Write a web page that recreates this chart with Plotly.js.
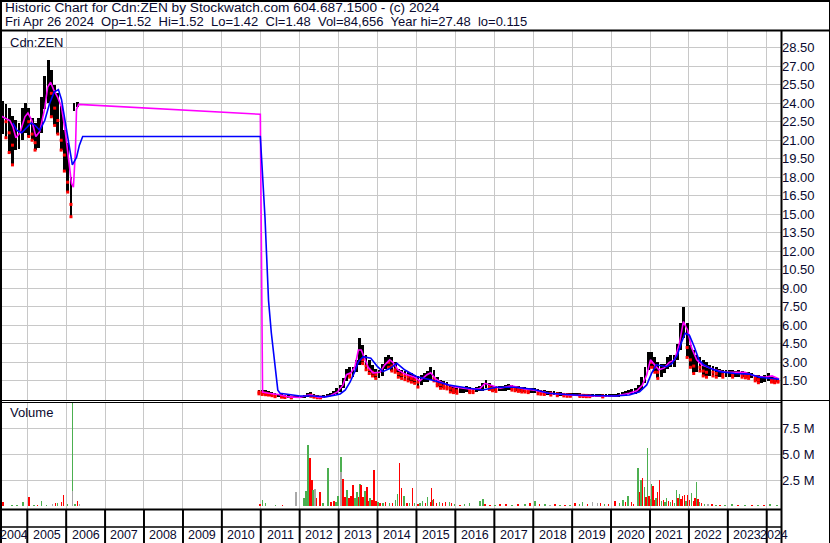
<!DOCTYPE html>
<html>
<head>
<meta charset="utf-8">
<script src="https://cdn.plot.ly/plotly-3.0.1.min.js"></script>
<style>
html,body{margin:0;padding:0;background:#fff;}
#chart{width:830px;height:543px;}
</style>
</head>
<body>
<div id="chart"></div>
<script>
// ---- Monthly price ranges (Cdn:ZEN) ----
const priceMonths = [
  '2004-04','2004-05','2004-06','2004-07','2004-08','2004-09','2004-10','2004-11','2004-12',
  '2005-01','2005-02','2005-03','2005-04','2005-05','2005-06','2005-07','2005-08','2005-09','2005-10','2005-11','2005-12',
  '2006-01','2006-02','2006-03','2006-04',
  '2010-12',
  '2011-01','2011-02','2011-03','2011-04','2011-05','2011-06','2011-07','2011-08','2011-09','2011-10','2011-11','2011-12',
  '2012-01','2012-02','2012-03','2012-04','2012-05','2012-06','2012-07','2012-08','2012-09','2012-10','2012-11','2012-12',
  '2013-01','2013-02','2013-03','2013-04','2013-05','2013-06','2013-07','2013-08','2013-09','2013-10','2013-11','2013-12',
  '2014-01','2014-02','2014-03','2014-04','2014-05','2014-06','2014-07','2014-08','2014-09','2014-10','2014-11','2014-12',
  '2015-01','2015-02','2015-03','2015-04','2015-05','2015-06','2015-07','2015-08','2015-09','2015-10','2015-11','2015-12',
  '2016-01','2016-02','2016-03','2016-04','2016-05','2016-06','2016-07','2016-08','2016-09','2016-10','2016-11','2016-12',
  '2017-01','2017-02','2017-03','2017-04','2017-05','2017-06','2017-07','2017-08','2017-09','2017-10','2017-11','2017-12',
  '2018-01','2018-02','2018-03','2018-04','2018-05','2018-06','2018-07','2018-08','2018-09','2018-10','2018-11','2018-12',
  '2019-01','2019-02','2019-03','2019-04','2019-05','2019-06','2019-07','2019-08','2019-09','2019-10','2019-11','2019-12',
  '2020-01','2020-02','2020-03','2020-04','2020-05','2020-06','2020-07','2020-08','2020-09','2020-10','2020-11','2020-12',
  '2021-01','2021-02','2021-03','2021-04','2021-05','2021-06','2021-07','2021-08','2021-09','2021-10','2021-11','2021-12',
  '2022-01','2022-02','2022-03','2022-04','2022-05','2022-06','2022-07','2022-08','2022-09','2022-10','2022-11','2022-12',
  '2023-01','2023-02','2023-03','2023-04','2023-05','2023-06','2023-07','2023-08','2023-09','2023-10','2023-11','2023-12',
  '2024-01','2024-02','2024-03','2024-04'
];
const priceHigh = [
  24.5,24.2,23.9,23.6,23.0,22.6,22.4,23.6,24.0,
  23.6,22.8,22.4,22.8,24.5,26.2,27.48,26.7,25.5,24.8,23.8,21.8,
  20.8,18.0,24.0,24.1,
  0.75,
  0.8,0.75,0.7,0.6,0.5,0.45,0.4,0.35,0.35,0.3,0.3,0.3,
  0.3,0.35,0.55,0.6,0.4,0.35,0.3,0.35,0.45,0.5,0.7,0.9,
  1.2,1.7,2.5,2.6,2.6,3.2,5.0,4.4,3.6,3.2,2.8,2.5,
  2.4,2.9,3.4,3.6,3.4,3.0,2.5,2.4,2.3,2.2,2.1,2.0,
  1.9,2.0,2.1,2.3,2.6,2.4,1.8,1.6,1.5,1.4,1.2,1.1,
  1.0,0.95,1.0,1.05,1.0,0.95,1.0,1.1,1.3,1.6,1.3,1.1,
  1.1,1.05,1.1,1.15,1.25,1.2,1.1,1.05,1.0,1.0,0.95,0.9,
  0.9,0.85,0.8,0.75,0.7,0.7,0.65,0.6,0.6,0.55,0.5,0.5,
  0.5,0.5,0.48,0.46,0.45,0.45,0.42,0.42,0.45,0.42,0.4,0.4,
  0.42,0.45,0.55,0.6,0.65,0.8,0.85,0.9,1.2,1.8,2.6,3.8,
  3.8,3.4,3.0,2.9,2.9,3.4,3.6,3.6,4.5,6.2,7.49,6.2,
  4.4,4.0,3.6,3.4,3.2,3.0,2.8,2.7,2.6,2.5,2.4,2.4,
  2.4,2.35,2.3,2.4,2.3,2.2,2.2,2.15,2.0,1.95,1.9,2.0,
  2.1,1.9,1.8,1.7
];
const priceLow = [
  21.4,21.5,21.2,20.0,19.0,20.2,20.3,21.0,21.6,
  21.3,21.0,20.2,20.4,21.6,23.5,24.0,22.9,22.2,21.5,20.2,18.5,
  16.8,14.8,23.4,23.7,
  0.45,
  0.4,0.38,0.35,0.3,0.22,0.2,0.18,0.15,0.12,0.12,0.115,0.12,
  0.12,0.15,0.2,0.25,0.18,0.13,0.12,0.13,0.2,0.25,0.35,0.45,
  0.6,0.9,1.5,1.8,1.8,2.2,2.8,2.9,2.4,2.1,1.9,1.7,
  1.7,1.9,2.5,2.6,2.3,2.2,1.8,1.7,1.6,1.5,1.4,1.3,
  1.0,1.2,1.4,1.4,1.6,1.5,1.1,0.9,0.9,0.85,0.6,0.55,
  0.5,0.5,0.55,0.6,0.55,0.55,0.6,0.65,0.7,0.9,0.8,0.7,
  0.65,0.65,0.7,0.7,0.75,0.75,0.7,0.65,0.6,0.6,0.55,0.5,
  0.5,0.45,0.42,0.4,0.38,0.35,0.33,0.3,0.3,0.28,0.25,0.25,
  0.25,0.25,0.24,0.23,0.22,0.22,0.2,0.2,0.2,0.2,0.18,0.18,
  0.2,0.2,0.2,0.25,0.3,0.4,0.45,0.45,0.6,0.8,1.3,2.4,
  2.6,2.2,1.7,1.8,2.1,2.5,2.6,2.6,3.2,4.0,5.0,3.4,
  2.6,2.1,2.2,2.3,1.9,1.8,1.9,1.9,1.8,1.8,1.8,1.8,
  1.85,1.8,1.8,1.85,1.8,1.75,1.7,1.7,1.5,1.35,1.35,1.4,
  1.45,1.4,1.35,1.4
];
const priceClose = [
  22.8,22.9,22.5,21.6,20.6,21.2,21.5,22.8,23.2,
  22.5,21.5,20.8,22.0,24.0,25.2,25.8,24.8,23.6,22.6,21.0,19.8,
  17.6,15.8,23.8,23.9,
  0.6,
  0.55,0.5,0.45,0.4,0.3,0.3,0.25,0.2,0.2,0.18,0.18,0.2,
  0.2,0.22,0.45,0.35,0.25,0.2,0.18,0.25,0.35,0.4,0.6,0.75,
  1.0,1.6,2.2,2.0,2.4,3.0,4.0,3.2,2.7,2.4,2.2,2.0,
  2.1,2.6,3.1,3.0,2.7,2.4,2.1,2.0,1.9,1.8,1.7,1.6,
  1.4,1.7,1.8,2.0,2.2,1.7,1.3,1.2,1.1,1.0,0.9,0.8,
  0.7,0.7,0.75,0.8,0.75,0.7,0.8,0.85,1.0,1.2,1.0,0.9,
  0.85,0.85,0.9,0.95,1.0,0.95,0.9,0.85,0.8,0.75,0.7,0.7,
  0.7,0.65,0.6,0.55,0.55,0.5,0.5,0.45,0.45,0.4,0.38,0.35,
  0.35,0.35,0.34,0.33,0.32,0.3,0.3,0.3,0.3,0.28,0.28,0.28,
  0.3,0.3,0.4,0.45,0.5,0.65,0.7,0.7,0.9,1.5,2.2,3.3,
  3.0,2.6,2.2,2.4,2.6,3.0,3.0,3.2,4.2,5.6,6.0,4.2,
  3.2,2.7,2.9,2.6,2.3,2.2,2.3,2.2,2.1,2.1,2.0,2.1,
  2.1,2.0,2.0,2.1,2.0,1.95,1.9,1.9,1.7,1.6,1.6,1.7,
  1.7,1.6,1.55,1.48
];

// ---- Short moving average (magenta) ----
const fastDates = [
  '2004-04-20','2004-06-05','2004-07-22','2004-08-19','2004-09-16','2004-10-24','2004-12-10',
  '2005-01-07','2005-02-13','2005-03-22','2005-04-28','2005-06-14','2005-07-11','2005-08-08','2005-09-05',
  '2005-10-12','2005-11-18','2005-12-25','2006-01-22','2006-02-20','2006-03-10','2006-03-29','2006-04-08','2006-04-27',
  '2010-12-28','2011-01-18','2011-03-15','2011-06-15','2011-09-20','2012-01-04','2012-03-20','2012-04-20',
  '2012-06-25','2012-10-10','2012-12-20','2013-02-10','2013-03-15','2013-04-25','2013-06-01','2013-07-05',
  '2013-08-01','2013-08-30','2013-10-05','2013-11-20','2014-01-25','2014-03-10','2014-04-25','2014-05-25',
  '2014-07-10','2014-09-15','2014-12-15','2015-02-01','2015-04-10','2015-05-15','2015-07-01','2015-09-10',
  '2015-12-25','2016-05-10','2016-08-15','2016-10-05','2016-12-10','2017-02-25','2017-06-10','2017-10-10',
  '2018-01-15','2018-05-25','2018-12-10','2019-06-10','2020-01-05','2020-03-01','2020-06-20','2020-08-30',
  '2020-10-20','2020-12-01','2021-01-05','2021-02-05','2021-03-25','2021-05-15','2021-07-01','2021-08-20',
  '2021-10-05','2021-11-10','2021-12-20','2022-01-25','2022-03-15','2022-05-01','2022-06-25','2022-08-30',
  '2022-12-05','2023-03-10','2023-06-10','2023-09-10','2023-12-15','2024-02-20','2024-04-26'
];
const fastValues = [
  23.0,22.8,22.6,22.1,21.2,21.6,22.9,
  23.2,22.6,21.3,21.7,23.6,25.3,25.7,25.1,
  24.5,23.7,21.6,19.4,17.5,17.2,20.2,23.5,23.9,
  23.1,0.6,0.5,0.4,0.2,0.15,0.35,0.35,
  0.15,0.28,0.6,1.15,2.0,2.15,2.6,4.0,
  4.0,3.35,2.6,2.15,2.2,2.8,3.2,3.0,
  2.4,2.05,1.8,1.5,2.0,2.15,1.65,1.3,
  1.0,0.85,0.85,1.3,1.1,0.9,1.1,0.85,
  0.75,0.5,0.35,0.28,0.28,0.3,0.5,0.7,
  1.15,2.0,3.2,2.9,2.4,2.55,3.0,3.2,
  4.6,6.3,5.6,4.2,3.2,2.8,2.6,2.4,
  2.2,2.2,2.2,1.9,1.8,1.9,1.65
];

// ---- Long moving average (blue) ----
const slowDates = [
  '2004-08-19','2004-09-25','2004-11-10','2004-12-28','2005-02-05','2005-03-15','2005-04-28','2005-06-14',
  '2005-07-30','2005-09-10','2005-10-20','2005-11-18','2005-12-25','2006-01-30','2006-02-28','2006-04-08',
  '2006-05-05','2006-06-05','2010-12-28','2011-02-10','2011-03-15','2011-04-10','2011-05-10','2011-06-10',
  '2011-07-01','2011-09-20','2012-01-04','2012-05-15','2012-08-30','2012-12-05','2013-01-15','2013-03-05',
  '2013-04-20','2013-06-01','2013-07-05','2013-08-20','2013-10-30','2014-01-01','2014-02-20','2014-04-25',
  '2014-07-01','2014-09-15','2015-01-05','2015-05-25','2015-11-01','2016-05-10','2016-09-10','2017-01-25',
  '2017-07-10','2017-12-30','2018-05-25','2019-01-25','2019-09-20','2020-02-05','2020-06-20','2020-09-25',
  '2020-12-01','2021-01-15','2021-03-01','2021-04-25','2021-06-05','2021-07-25','2021-09-15','2021-10-20',
  '2021-11-25','2022-01-05','2022-02-20','2022-04-05','2022-05-20','2022-07-25','2022-10-15','2023-03-10',
  '2023-07-25','2023-10-25','2024-02-01','2024-04-26'
];
const slowValues = [
  22.4,21.8,21.6,22.0,22.4,22.2,21.8,22.6,
  24.0,24.9,25.1,24.3,22.4,20.2,19.0,19.6,
  20.6,21.3,21.3,14.7,8.0,5.4,3.2,0.75,
  0.5,0.4,0.28,0.28,0.2,0.35,0.44,0.76,
  1.43,2.25,3.05,3.46,3.33,2.65,2.25,2.5,
  2.92,2.38,1.84,1.57,1.17,0.9,0.76,0.98,
  0.98,0.82,0.5,0.36,0.28,0.28,0.36,0.62,
  1.17,2.1,2.8,2.7,2.65,2.9,3.6,4.55,
  5.35,5.2,4.27,3.2,2.8,2.5,2.25,2.1,
  2.05,1.8,1.7,1.63
];

// ---- Volume (millions of shares); u = up, d = down, f = unchanged ----
const volDates = [
  '2004-05-16','2004-08-09','2004-09-25','2004-11-21','2005-01-16','2005-03-02','2005-04-08','2005-05-15',
  '2005-07-01','2005-08-26','2005-09-23','2005-10-11','2005-11-18','2005-12-06','2006-01-13','2006-02-28',
  '2006-02-28','2006-03-28','2006-04-16','2006-05-05',
  '2010-12-28','2011-01-17','2011-02-15','2011-05-19','2011-07-24','2011-11-26',
  '2012-02-10','2012-02-28','2012-03-17','2012-04-06','2012-04-20','2012-04-29','2012-05-08','2012-05-22',
  '2012-06-06','2012-07-08','2012-08-06','2012-09-22','2012-10-20','2012-11-17','2012-12-06','2012-12-24',
  '2013-01-22','2013-01-22','2013-02-10','2013-02-28','2013-03-17','2013-04-06','2013-04-24','2013-05-13',
  '2013-06-01','2013-06-19','2013-07-08','2013-07-22','2013-07-27','2013-08-15','2013-09-03','2013-09-22',
  '2013-10-10','2013-10-20','2013-11-08','2013-11-26','2013-12-15',
  '2014-01-03','2014-01-22','2014-02-19','2014-03-17','2014-04-24','2014-05-22','2014-06-19','2014-07-08',
  '2014-07-27','2014-08-15','2014-09-03','2014-10-01','2014-10-29','2014-11-26','2014-12-15',
  '2015-01-13','2015-02-01','2015-02-28','2015-03-27','2015-04-15','2015-05-13','2015-05-22','2015-06-01',
  '2015-06-10','2015-07-08','2015-08-06','2015-09-03','2015-10-01','2015-11-08','2015-11-26','2015-12-24',
  '2016-02-11','2016-03-28','2016-05-14','2016-08-17','2016-09-15','2016-10-04','2016-11-20',
  '2017-01-07','2017-02-23','2017-04-19','2017-06-14','2017-08-09','2017-10-14','2017-11-30',
  '2018-01-16','2018-03-02','2018-04-19','2018-06-05','2018-07-21','2018-09-07','2018-10-23','2018-12-09',
  '2019-01-26','2019-03-12','2019-04-09','2019-05-26','2019-07-12','2019-08-28','2019-09-25','2019-11-02','2019-12-09',
  '2020-02-05','2020-03-21','2020-04-19','2020-05-16','2020-06-05','2020-07-12','2020-07-30','2020-09-07',
  '2020-09-25','2020-10-09','2020-10-23','2020-11-11','2020-11-25','2020-12-09','2020-12-23',
  '2021-01-07','2021-01-16','2021-01-30','2021-02-14','2021-02-23','2021-03-12','2021-03-30','2021-04-19',
  '2021-05-07','2021-05-21','2021-06-05','2021-06-23','2021-07-12','2021-07-30','2021-08-19','2021-09-07',
  '2021-09-21','2021-10-05','2021-10-19','2021-11-02','2021-11-21','2021-12-05','2021-12-19',
  '2022-01-07','2022-01-26','2022-02-14','2022-02-28','2022-03-13','2022-03-27','2022-04-11','2022-04-30',
  '2022-05-28','2022-06-26','2022-08-03','2022-09-11','2022-10-18','2022-12-05',
  '2023-02-10','2023-04-06','2023-06-10','2023-08-15','2023-10-10','2023-12-06','2024-02-01','2024-04-06'
];
const volMillions = [
  0.38,0.12,0.12,0.38,0.87,0.15,0.15,0.55,
  0.15,0.22,0.32,0.3,0.38,1.1,0.25,11.5,
  1.51,0.25,0.55,0.22,
  0.22,0.64,0.3,0.15,0.15,1.41,
  0.8,1.51,5.89,4.64,2.31,2.56,1.6,1.67,
  0.8,1.35,0.3,3.68,0.38,0.55,0.4,1.03,
  4.71,3.33,2.63,0.9,1.57,0.8,1.0,2.05,
  0.8,1.35,0.9,2.15,2.05,0.9,1.51,1.83,
  0.5,0.8,0.6,3.52,0.5,
  0.4,0.35,0.3,0.4,0.3,0.35,0.6,1.19,
  4.16,1.73,1.03,0.3,0.3,1.73,0.3,
  0.25,0.3,0.55,0.3,0.87,0.4,1.73,0.6,
  0.7,0.3,0.45,0.3,0.4,0.45,0.3,0.2,
  0.15,0.25,0.3,0.55,0.75,0.22,0.15,
  0.15,0.2,0.2,0.15,0.2,0.2,0.3,
  0.55,0.2,0.22,0.15,0.22,0.15,0.15,0.15,
  0.3,0.25,0.38,0.2,0.38,0.32,0.32,0.2,0.2,
  0.55,0.3,0.64,0.4,1.03,0.38,0.22,3.68,
  1.35,2.56,2.69,1.83,0.87,5.67,0.96,
  0.7,2.15,1.99,0.6,0.77,1.41,2.56,0.5,
  0.6,0.4,0.77,0.5,0.4,0.6,0.35,1.57,
  0.8,1.19,0.7,0.96,1.1,0.5,1.1,
  0.6,1.28,0.5,0.8,2.31,0.71,0.4,0.3,
  0.25,0.22,0.2,0.15,0.15,0.15,
  0.22,0.15,0.15,0.12,0.15,0.12,0.2,0.12
];
const volDir = [
  'd','u','u','u','d','u','d','u',
  'u','f','d','u','d','d','u','u',
  'f','u','d','f',
  'd','u','u','u','d','f',
  'u','u','u','d','u','d','u','f',
  'd','d','u','u','d','d','u','u',
  'u','f','d','d','u','d','d','d',
  'u','u','d','u','d','d','u','d',
  'd','u','d','d','d',
  'u','d','u','d','u','d','u','u',
  'd','d','u','d','u','d','u',
  'd','u','u','d','u','d','d','u',
  'd','d','u','d','d','u','d','u',
  'd','u','u','u','u','d','d',
  'u','d','d','u','d','u','d',
  'u','d','u','f','d','u','d','u',
  'd','u','u','d','f','f','d','u','d',
  'd','u','u','d','u','d','d','u',
  'd','u','d','u','d','u','d',
  'u','u','d','d','u','d','d','u',
  'd','u','u','d','u','d','u','u',
  'd','u','d','d','d','u','d',
  'd','u','d','d','u','d','u','d',
  'u','f','d','u','d','u',
  'u','d','u','d','u','d','u','u'
];

// ---- Axis labels ----
const priceTicks = [1.5,3,4.5,6,7.5,9,10.5,12,13.5,15,16.5,18,19.5,21,22.5,24,25.5,27,28.5];
const volumeTicks = [2.5,5,7.5];
const volumeTickText = ['2.5 M','5.0 M','7.5 M'];
const yearLabels = ['2004','2005','2006','2007','2008','2009','2010','2011','2012','2013','2014',
                    '2015','2016','2017','2018','2019','2020','2021','2022','2023','2024'];

const headerLine1 = 'Historic Chart for Cdn:ZEN by Stockwatch.com 604.687.1500 - (c) 2024';
const headerLine2 = ['Fri Apr 26 2024','Op=1.52','Hi=1.52','Lo=1.42','Cl=1.48','Vol=84,656','Year hi=27.48','lo=0.115'];

// ---- Geometry helpers (pixel -> paper fraction) ----
const W = 830, H = 543;
const px = x => x / W;
const py = y => 1 - y / H;
const xRange = ['2004-04-20', '2024-05-14'];
const FONT = 'Liberation Sans, Arial, sans-serif';
const TXT = '#0a0a30';
const GRID = '#c8c8c8';
const DAY = 86400000;

// price bars and down-month ticks
const monthDates = priceMonths.map(m => m + '-15');
const barSpan = priceHigh.map((h, i) => h - priceLow[i]);
const downX = [], downY = [];
priceClose.forEach((c, i) => {
  if (i > 0 && c < priceClose[i - 1]) {
    downX.push(monthDates[i], monthDates[i]);
    downY.push(c, priceLow[i]);
  }
});

const dirColor = { u: '#4caf50', d: '#ff0000', f: '#a8a8a8' };

const traces = [
  {
    type: 'bar', x: monthDates, y: barSpan, base: priceLow,
    width: 27 * DAY, marker: { color: '#000000', line: { width: 0 } },
    xaxis: 'x', yaxis: 'y', hoverinfo: 'skip', showlegend: false
  },
  {
    type: 'scatter', mode: 'markers', x: downX, y: downY,
    marker: { symbol: 'square', size: 3, color: '#ff0000', line: { width: 0 } },
    xaxis: 'x', yaxis: 'y', hoverinfo: 'skip', showlegend: false
  },
  {
    type: 'scatter', mode: 'lines', x: fastDates, y: fastValues,
    line: { color: '#ff00ff', width: 1.6 },
    xaxis: 'x', yaxis: 'y', hoverinfo: 'skip', showlegend: false
  },
  {
    type: 'scatter', mode: 'lines', x: slowDates, y: slowValues,
    line: { color: '#0000ff', width: 1.6 },
    xaxis: 'x', yaxis: 'y', hoverinfo: 'skip', showlegend: false
  },
  {
    type: 'bar', x: volDates, y: volMillions,
    width: 16 * DAY, marker: { color: volDir.map(d => dirColor[d]), line: { width: 0 } },
    xaxis: 'x2', yaxis: 'y2', hoverinfo: 'skip', showlegend: false
  }
];

// frame lines
const shapes = [];
function hline(y, x0, x1, w) {
  shapes.push({ type: 'line', xref: 'paper', yref: 'paper', x0: px(x0), x1: px(x1), y0: py(y), y1: py(y),
                line: { color: '#000', width: w } });
}
function vline(x, y0, y1, w) {
  shapes.push({ type: 'line', xref: 'paper', yref: 'paper', x0: px(x), x1: px(x), y0: py(y0), y1: py(y1),
                line: { color: '#000', width: w } });
}
hline(1, 0, 830, 2);        // top edge
vline(1, 0, 543, 2);        // left edge
vline(829.5, 0, 543, 1);    // right edge
hline(30.5, 0, 830, 2);     // under header
vline(781.5, 30, 543, 2);   // axis column divider
hline(400.5, 0, 830, 1);    // price / volume split
hline(402.5, 0, 781, 1);
hline(509.5, 0, 781, 2);    // under volume
hline(527, 0, 781, 1.5);    // date row
yearLabels.slice(1).forEach(y => {
  shapes.push({ type: 'line', xref: 'x', yref: 'paper', x0: y + '-01-01', x1: y + '-01-01',
                y0: py(510), y1: py(543), line: { color: '#000', width: 2 } });
});

// year labels centred in the visible part of each year
const r0 = Date.parse(xRange[0]), r1 = Date.parse(xRange[1]);
const annotations = yearLabels.map(y => {
  const a = Math.max(Date.parse(y + '-01-01'), r0);
  const b = Math.min(Date.parse((+y + 1) + '-01-01'), r1);
  return { xref: 'x', yref: 'paper', x: new Date((a + b) / 2).toISOString().slice(0, 10), y: py(535),
           text: y, showarrow: false, xanchor: 'center', yanchor: 'middle',
           font: { family: FONT, size: 12.5, color: TXT } };
});
const sp = '\u00a0\u00a0';
annotations.push(
  { xref: 'paper', yref: 'paper', x: px(3), y: py(7.5), text: headerLine1, showarrow: false,
    xanchor: 'left', yanchor: 'middle', font: { family: FONT, size: 13.7, color: TXT } },
  { xref: 'paper', yref: 'paper', x: px(3), y: py(21.5), text: headerLine2.join(sp), showarrow: false,
    xanchor: 'left', yanchor: 'middle', font: { family: FONT, size: 13, color: TXT } },
  { xref: 'paper', yref: 'paper', x: px(8), y: py(42), text: 'Cdn:ZEN', showarrow: false,
    xanchor: 'left', yanchor: 'middle', font: { family: FONT, size: 13, color: TXT } },
  { xref: 'paper', yref: 'paper', x: px(8), y: py(413), text: 'Volume', showarrow: false,
    xanchor: 'left', yanchor: 'middle', font: { family: FONT, size: 13, color: TXT } }
);

const xCommon = {
  type: 'date', range: xRange, domain: [0, px(781)],
  showgrid: true, gridcolor: GRID, gridwidth: 1,
  tick0: '2004-01-01', dtick: 'M12', ticks: '', showticklabels: false,
  zeroline: false, showline: false, fixedrange: true
};

const layout = {
  width: W, height: H,
  margin: { l: 0, r: 0, t: 0, b: 0, pad: 0 },
  paper_bgcolor: '#ffffff', plot_bgcolor: '#ffffff',
  barmode: 'overlay', bargap: 0,
  showlegend: false,
  xaxis: Object.assign({}, xCommon, { anchor: 'y' }),
  xaxis2: Object.assign({}, xCommon, { anchor: 'y2', matches: 'x' }),
  yaxis: {
    domain: [py(400), py(31)], range: [-0.05, 29.85], side: 'right', anchor: 'x',
    tickvals: priceTicks, ticktext: priceTicks.map(v => v.toFixed(2)),
    showgrid: true, gridcolor: GRID, ticks: '', zeroline: false, showline: false,
    tickfont: { family: FONT, size: 13, color: TXT }, fixedrange: true
  },
  yaxis2: {
    domain: [py(508.5), py(402.5)], range: [-0.2, 10.0], side: 'right', anchor: 'x2',
    tickvals: volumeTicks, ticktext: volumeTickText,
    showgrid: true, gridcolor: GRID, ticks: '', zeroline: false, showline: false,
    tickfont: { family: FONT, size: 13, color: TXT }, fixedrange: true
  },
  shapes: shapes,
  annotations: annotations
};

Plotly.newPlot('chart', traces, layout, { staticPlot: true, displayModeBar: false });
</script>
</body>
</html>
